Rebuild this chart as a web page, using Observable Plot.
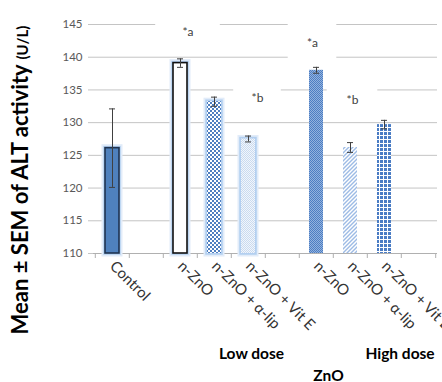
<!DOCTYPE html>
<html>
<head>
<meta charset="utf-8">
<script src="https://cdn.jsdelivr.net/npm/d3@7"></script>
<script src="https://cdn.jsdelivr.net/npm/@observablehq/plot@0.6"></script>
<style>
  html, body { margin: 0; padding: 0; background: #fff; }
  #chart { width: 442px; height: 382px; }
</style>
</head>
<body>
<svg width="0" height="0" style="position:absolute">
  <defs>
    <pattern id="pChk" width="4" height="4" patternUnits="userSpaceOnUse">
      <rect width="4" height="4" fill="#ffffff"/>
      <rect width="2" height="2" fill="#4f7fc0"/>
      <rect x="2" y="2" width="2" height="2" fill="#4f7fc0"/>
    </pattern>
    <pattern id="pLt" width="2" height="2" patternUnits="userSpaceOnUse">
      <rect width="2" height="2" fill="#f2f6fb"/>
      <rect width="1" height="1" fill="#c9daf0"/>
      <rect x="1" y="1" width="1" height="1" fill="#c9daf0"/>
    </pattern>
    <pattern id="pDn" width="2" height="2" patternUnits="userSpaceOnUse">
      <rect width="2" height="2" fill="#93b2de"/>
      <rect width="1" height="1" fill="#4d7ec2"/>
      <rect x="1" y="1" width="1" height="1" fill="#4d7ec2"/>
    </pattern>
    <pattern id="pDg" width="4" height="4" patternUnits="userSpaceOnUse">
      <rect width="4" height="4" fill="#ffffff"/>
      <path d="M-1,1 l2,-2 M0,4 l4,-4 M3,5 l2,-2" stroke="#9dbbe5" stroke-width="1.4"/>
    </pattern>
    <pattern id="pPl" width="4" height="4" patternUnits="userSpaceOnUse">
      <rect width="4" height="4" fill="#4a7cc4"/>
      <rect x="3" width="1" height="4" fill="#ffffff"/>
      <rect y="3" width="4" height="1" fill="#ffffff"/>
    </pattern>
  </defs>
</svg>
<div id="chart"></div>
<script>
// ---- data ----
const categories = ["Control", "", "n-ZnO", "n-ZnO + α-lip", "n-ZnO + Vit E", "", "n-ZnO", "n-ZnO + α-lip", "n-ZnO + Vit E", ""];
const means = [126.1, null, 139.1, 133.2, 127.5, null, 138.0, 126.2, 129.7, null];
const sems  = [6.0, null, 0.65, 0.7, 0.45, null, 0.45, 0.75, 0.65, null];
const annLabels = ["*a", "*a", "*b", "*b"];
const annCats   = [2, 6, 4, 7];
const annValues = [143.8, 142.1, 133.7, 133.4];
const groupLabels = ["Low dose", "High dose", "ZnO"];
const groupCats   = [4, 8, 6];
const yTicks = [110, 115, 120, 125, 130, 135, 140, 145];
const yTitle = "Mean ± SEM of ALT activity";
const yUnit = "(U/L)";

// ---- styles / layout ----
const W = 442, H = 382, mL = 93, mR = 5, mT = 24, mB = 129;
const bw = (W - mL - mR) / categories.length;
const barFill   = ["#4f81bd", null, "#ffffff", "url(#pChk)", "url(#pLt)", null, "url(#pDn)", "url(#pDg)", "url(#pPl)", null];
const barStroke = ["#1f3350", null, "#111111", "none", "none", null, "none", "none", "none", null];
const barGlow   = [true, null, true, true, true, null, false, false, false, null];
const annDx = [7.5, -4, 9, 2];
const annBoxW = [65, 49, 48, 51];
const groupDx = [3, 15.5, 12];
const groupDy = [105, 105, 127];

const rows = categories.map((c, i) => ({i, label: c, mean: means[i], sem: sems[i], fill: barFill[i], stroke: barStroke[i], glow: barGlow[i]}))
  .filter(d => d.mean != null);
const glowRows = rows.filter(d => d.glow);
const anns = annLabels.map((t, k) => ({text: t, i: annCats[k], y: annValues[k]}));

const marks = [
  Plot.ruleY(yTicks.slice(1), {stroke: "#c4c4c4"}),
  ...anns.map((a, k) => Plot.barY([a], {
    x: "i", y1: d => d.y - 3, y2: d => d.y + 3, fill: "white", dx: annDx[k],
    insetLeft: (bw - annBoxW[k]) / 2, insetRight: (bw - annBoxW[k]) / 2
  })),
  Plot.ruleY([110], {stroke: "#b0b0b0"}),
  Plot.barY(glowRows, {x: "i", y1: 110, y2: "mean", fill: "none", stroke: "#e2ecf9", strokeWidth: 7, insetLeft: 10, insetRight: 10}),
  Plot.barY(glowRows, {x: "i", y1: 110, y2: "mean", fill: "none", stroke: "#b3cff0", strokeWidth: 3.5, insetLeft: 10, insetRight: 10}),
  Plot.barY(rows, {x: "i", y1: 110, y2: "mean", fill: "fill", stroke: "stroke", strokeWidth: 1.6, insetLeft: 10, insetRight: 10}),
  Plot.ruleX(rows, {x: "i", y1: d => d.mean - d.sem, y2: d => d.mean + d.sem, stroke: "#404040"}),
  Plot.tickY(rows, {x: "i", y: d => d.mean + d.sem, stroke: "#404040", insetLeft: 14, insetRight: 14}),
  Plot.tickY(rows, {x: "i", y: d => d.mean - d.sem, stroke: "#404040", insetLeft: 14, insetRight: 14}),
  ...anns.map((a, k) => Plot.text([a], {x: "i", y: "y", text: "text", dx: annDx[k], fontSize: 12, fill: "#404040"})),
  Plot.axisY(yTicks, {tickSize: 5, tickPadding: 6, fontSize: 11.5, fill: "#595959", stroke: "#c4c4c4", line: true, label: null}),
  Plot.axisX({tickSize: 5, tickFormat: () => "", dx: -bw / 2, stroke: "#b0b0b0", label: null}),
  Plot.axisX([categories.length - 1], {tickSize: 5, tickFormat: () => "", dx: bw / 2, stroke: "#b0b0b0", label: null}),
  Plot.axisX({tickSize: 0, tickPadding: 10, tickRotate: 45, fontSize: 15, fill: "#333333", tickFormat: i => categories[i], label: null}),
  ...groupLabels.map((g, k) => Plot.text([g], {x: () => groupCats[k], frameAnchor: "bottom", dx: groupDx[k], dy: groupDy[k], text: d => d, fontSize: 15.5, fontWeight: "bold", fill: "#000"})),
  () => {
    const g = d3.create("svg:g");
    const t = g.append("text")
      .attr("transform", "translate(28,180) rotate(-90)")
      .attr("text-anchor", "middle")
      .attr("font-weight", "bold")
      .attr("fill", "#000");
    t.append("tspan").attr("font-size", 22).text(yTitle + " ");
    t.append("tspan").attr("font-size", 15).text(yUnit);
    return g.node();
  }
];

const chart = Plot.plot({
  width: W, height: H,
  marginLeft: mL, marginRight: mR, marginTop: mT, marginBottom: mB,
  style: {fontFamily: "Lato, sans-serif", background: "#fff", overflow: "visible"},
  x: {type: "band", domain: d3.range(categories.length), padding: 0},
  y: {domain: [110, 145]},
  color: {type: "identity"},
  marks
});
document.getElementById("chart").appendChild(chart);
</script>
</body>
</html>
